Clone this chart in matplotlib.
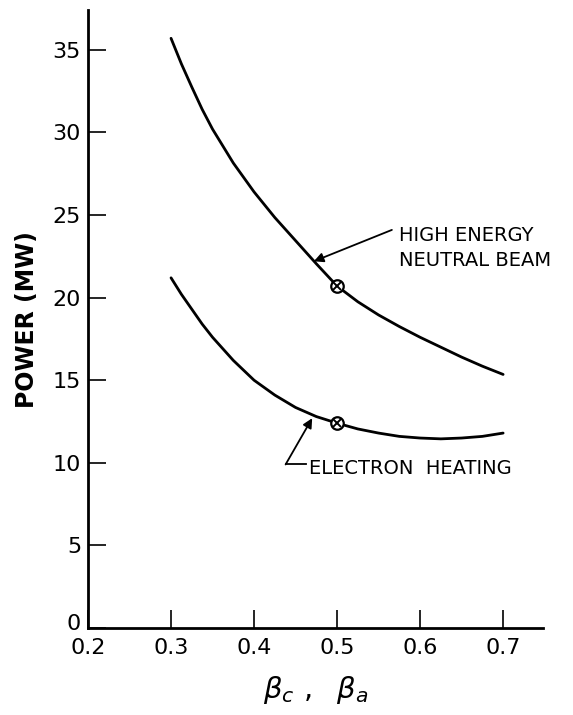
import matplotlib.pyplot as plt
import matplotlib.transforms as mtransforms
import numpy as np

# beta values (x) and power (MW) for the two heating schemes
beta = np.array([0.300, 0.3125, 0.325, 0.3375, 0.350, 0.375, 0.400, 0.425, 0.450,
                 0.475, 0.500, 0.525, 0.550, 0.575, 0.600, 0.625, 0.650, 0.675, 0.700])
p_beam = np.array([35.7, 34.15, 32.75, 31.4, 30.2, 28.15, 26.4, 24.85, 23.45,
                   22.05, 20.7, 19.75, 18.95, 18.25, 17.6, 17.0, 16.4, 15.85, 15.35])
p_elec = np.array([21.2, 20.2, 19.3, 18.4, 17.6, 16.2, 15.0, 14.1, 13.35,
                   12.8, 12.4, 12.05, 11.8, 11.6, 11.5, 11.45, 11.5, 11.6, 11.8])

# design points
pt_beta = [0.5, 0.5]
pt_power = [20.7, 12.4]

xticks = [0.2, 0.3, 0.4, 0.5, 0.6, 0.7]
xtick_labels = ["0.2", "0.3", "0.4", "0.5", "0.6", "0.7"]
yticks = [0, 5, 10, 15, 20, 25, 30, 35]

fig = plt.figure(figsize=(5.73, 7.15), dpi=100)
ax = fig.add_axes([0.1536, 0.1217, 0.794, 0.864])

ax.plot(beta, p_beam, color="black", lw=2.0, solid_capstyle="round")
ax.plot(beta, p_elec, color="black", lw=2.0, solid_capstyle="round")

# circle-with-cross markers
ax.plot(pt_beta, pt_power, "o", ms=9, mfc="white", mec="black", mew=1.6, zorder=3)
ax.plot(pt_beta, pt_power, "x", ms=5.5, mec="black", mew=1.4, zorder=4)

ax.set_xlim(0.2, 0.748)
ax.set_ylim(0, 37.4)

for s in ["top", "right"]:
    ax.spines[s].set_visible(False)
for s in ["left", "bottom"]:
    ax.spines[s].set_linewidth(2.0)

ax.set_xticks(xticks)
ax.set_xticklabels(xtick_labels)
ax.set_yticks(yticks)
ax.tick_params(direction="in", length=13, width=1.2, labelsize=16)
ax.tick_params(axis="x", pad=7)
ax.tick_params(axis="y", pad=5)

# lift the "0" label a little so it clears "0.2"
fig.canvas.draw()
lab0 = ax.get_yticklabels()[0]
lab0.set_transform(lab0.get_transform() +
                   mtransforms.ScaledTranslation(0, 4 / 72, fig.dpi_scale_trans))

ax.set_ylabel("POWER (MW)", fontsize=17, fontweight="bold", labelpad=10)
ax.set_xlabel(r"$\beta_c\ ,\ \ \beta_a$", fontsize=21, labelpad=12)

# curve labels
ax.annotate("", xy=(0.472, 22.2), xytext=(0.566, 24.1),
            arrowprops=dict(arrowstyle="-|>", color="black", lw=1.3,
                            mutation_scale=14, shrinkA=0, shrinkB=0))
ax.text(0.575, 23.0, "HIGH ENERGY\nNEUTRAL BEAM", fontsize=14,
        ha="left", va="center", linespacing=1.35)

ax.plot([0.438, 0.462], [9.9, 9.9], color="black", lw=1.3)
ax.annotate("", xy=(0.470, 12.7), xytext=(0.438, 9.9),
            arrowprops=dict(arrowstyle="-|>", color="black", lw=1.3,
                            mutation_scale=14, shrinkA=0, shrinkB=0))
ax.text(0.466, 9.65, "ELECTRON  HEATING", fontsize=14, ha="left", va="center")

fig.savefig("out.png", dpi=100)
